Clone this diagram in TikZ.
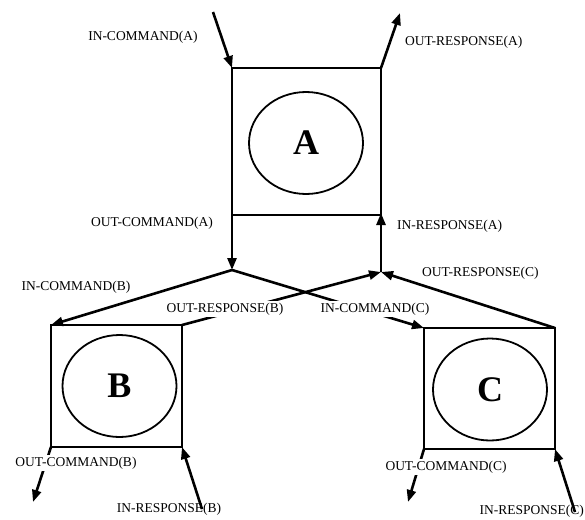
\documentclass[tikz,border=0pt]{standalone}
\usepackage{fontspec}
\setmainfont{Liberation Serif}
\usetikzlibrary{arrows.meta,shapes.geometric}
\begin{document}
\begin{tikzpicture}[x=1pt,y=-1pt,
  flow/.style={line width=2.6pt,-{Triangle[length=12pt,width=9pt]}},
  unitbox/.style={draw,line width=2.2pt,inner sep=0pt,outer sep=0pt},
  core/.style={draw,ellipse,line width=1.8pt,inner sep=0pt,outer sep=0pt,
    minimum width=114pt,minimum height=102pt,font=\fontsize{36}{36}\selectfont\bfseries},
  lbl/.style={font=\fontsize{13.5}{13.5}\selectfont,inner sep=1pt},
  cover/.style={lbl,fill=white,inner sep=1.5pt}
]
\useasboundingbox (0,0) rectangle (585,519);

% the three units
\node[unitbox,minimum width=149pt,minimum height=147pt] (A) at (306.5,141.5) {};
\node[unitbox,minimum width=131pt,minimum height=122pt] (B) at (116.5,386) {};
\node[unitbox,minimum width=131pt,minimum height=121pt] (C) at (489.5,388.5) {};
\node[core] (cA) at (306,143) {A};
\node[core] (cB) at (119.5,386) {B};
\node[core] (cC) at (490,389.5) {C};

% junctions and free ends
\coordinate (jA) at (232,270);
\coordinate (jR) at (381,272);
\coordinate (inA) at (213,12);
\coordinate (outA) at (400,13);
\coordinate (outB) at (33,502);
\coordinate (inB) at (202,509);
\coordinate (outC) at (408,502);
\coordinate (inC) at (575,512);

% connectors
\draw[flow] (inA) -- (A.north west);
\draw[flow] (A.north east) -- (outA);
\draw[flow] (A.south west) -- (jA);
\draw[flow] (jR) -- ([yshift=2pt]A.south east);
\draw[flow] (jA) -- (B.north west);
\draw[flow] (jA) -- (C.north west);
\draw[flow] (B.north east) -- (jR);
\draw[flow] (C.north east) -- (jR);
\draw[flow] (B.south west) -- (outB);
\draw[flow] (inB) -- (B.south east);
\draw[flow] (C.south west) -- (outC);
\draw[flow] (inC) -- (C.south east);

% labels
\node[lbl] (lInCA) at (143,37) {IN-COMMAND(A)};
\node[lbl,anchor=west] (lOutRA) at (404,42) {OUT-RESPONSE(A)};
\node[lbl,anchor=east] (lOutCA) at (214,223) {OUT-COMMAND(A)};
\node[lbl,anchor=west] (lInRA) at (396,226) {IN-RESPONSE(A)};
\node[lbl] (lInCB) at (76,287) {IN-COMMAND(B)};
\node[cover] (lOutRB) at (225,309) {OUT-RESPONSE(B)};
\node[cover,anchor=west] (lInCC) at (319,309) {IN-COMMAND(C)};
\node[lbl,anchor=west] (lOutRC) at (421,273) {OUT-RESPONSE(C)};
\node[cover] (lOutCB) at (76,463) {OUT-COMMAND(B)};
\node[lbl] (lInRB) at (169,509) {IN-RESPONSE(B)};
\node[cover] (lOutCC) at (446,467) {OUT-COMMAND(C)};
\node[lbl,anchor=east] (lInRC) at (585,511) {IN-RESPONSE(C)};
\end{tikzpicture}
\end{document}
